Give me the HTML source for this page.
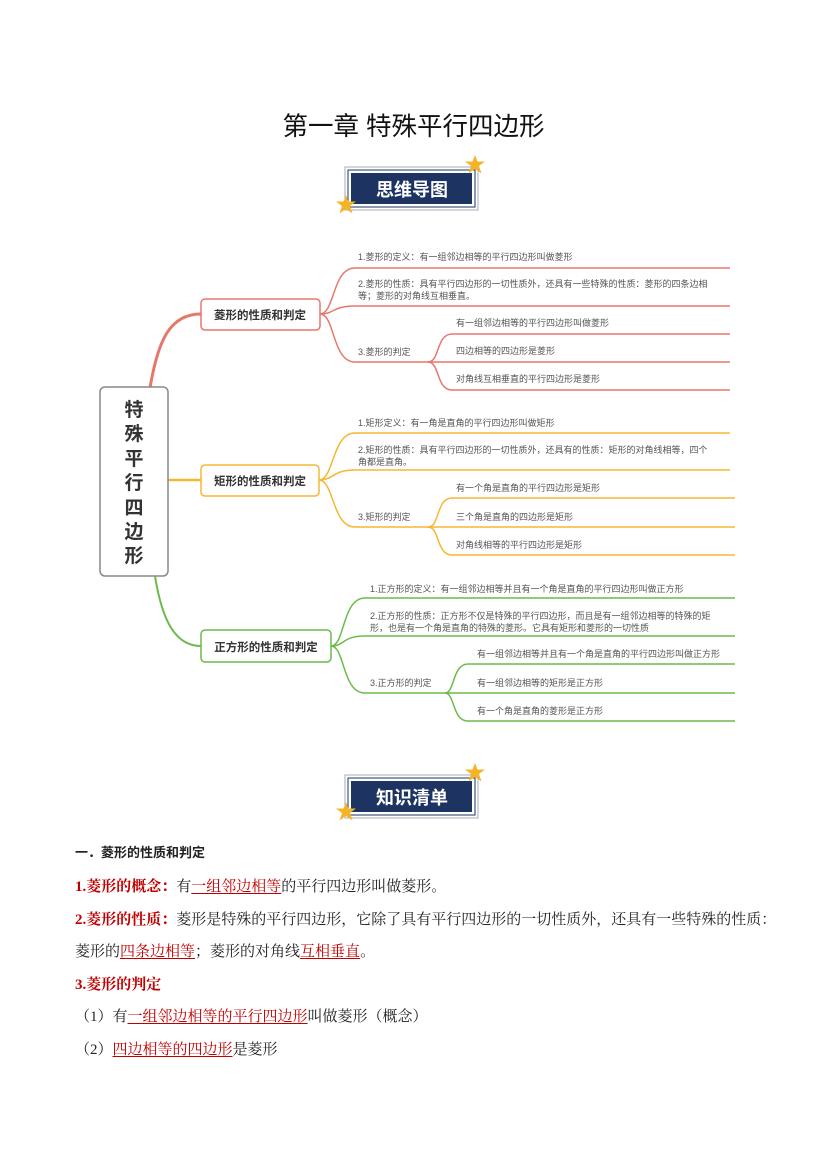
<!DOCTYPE html>
<html><head><meta charset="utf-8"><style>
body{margin:0;background:#fff;width:827px;height:1169px;position:relative;overflow:hidden;font-family:"Liberation Sans","Noto Sans CJK SC",sans-serif;}
.t{position:absolute;white-space:nowrap;}
.p{position:absolute;left:75px;font-size:15px;color:#222;white-space:nowrap;font-family:"Liberation Serif","Noto Serif CJK SC",serif;}
.r{color:#c00000;font-weight:bold;}
.u{color:#c00000;text-decoration:underline;text-underline-offset:2px;}
</style></head><body>
<div class="t" style="left:0;width:827px;text-align:center;top:106px;font-size:25.5px;color:#111;">第一章&nbsp;特殊平行四边形</div>

<svg width="827" height="1169" style="position:absolute;left:0;top:0" font-family="Liberation Sans, Noto Sans CJK SC, sans-serif">
<defs>
<g id="star"><polygon points="0,-10 2.5,-3.5 10,-3.5 4,1 6.5,8.5 0,4 -6.5,8.5 -4,1 -10,-3.5 -2.5,-3.5" fill="#f5b428"/></g>
</defs>
<rect x="345" y="167" width="133" height="43" fill="#fff" stroke="#aab" stroke-width="1"/>
<rect x="348" y="170" width="127" height="37" fill="#fff" stroke="#1d3462" stroke-width="1"/>
<rect x="351" y="173" width="121" height="31" fill="#1d3462"/>
<text x="412" y="196" font-size="18" font-weight="bold" fill="#fff" text-anchor="middle">思维导图</text>
<use href="#star" x="475" y="165"/><use href="#star" x="346" y="205"/>
<rect x="345" y="775" width="133" height="43" fill="#fff" stroke="#aab" stroke-width="1"/>
<rect x="348" y="778" width="127" height="37" fill="#fff" stroke="#1d3462" stroke-width="1"/>
<rect x="351" y="781" width="121" height="31" fill="#1d3462"/>
<text x="412" y="804" font-size="18" font-weight="bold" fill="#fff" text-anchor="middle">知识清单</text>
<use href="#star" x="475" y="773"/><use href="#star" x="346" y="812"/>

<path d="M150 388 C158 340,170 314,201 314" stroke="#e8776b" stroke-width="3" fill="none"/>
<path d="M168 480 L201 480" stroke="#f5b730" stroke-width="2.5" fill="none"/>
<path d="M155 576 C162 620,175 646,201 646" stroke="#6cbb4a" stroke-width="2" fill="none"/>
<rect x="100" y="387" width="68" height="189" rx="5" fill="#fff" stroke="#888" stroke-width="1.5"/>
<g font-size="19" font-weight="bold" fill="#333" text-anchor="middle">
<text x="134" y="416">特</text><text x="134" y="440">殊</text><text x="134" y="465">平</text><text x="134" y="489">行</text><text x="134" y="514">四</text><text x="134" y="538">边</text><text x="134" y="562">形</text>
</g>

<g stroke="#e8776b" stroke-width="1.5" fill="none">
<rect x="201" y="299" width="119" height="31" rx="4"/>
<path d="M320 314 C335 314,332 268,355 268 L730 268"/>
<path d="M320 314 C335 314,332 306,355 306 L730 306"/>
<path d="M320 314 C335 314,332 362,355 362 L428 362"/>
<path d="M428 362 C440 362,436 334,452 334 L730 334"/>
<path d="M428 362 L730 362"/>
<path d="M428 362 C440 362,436 390,452 390 L730 390"/>
</g>
<text x="260" y="319" font-size="11.5" font-weight="bold" fill="#333" text-anchor="middle">菱形的性质和判定</text>
<g font-size="9" fill="#555">
<text x="358" y="260">1.菱形的定义：有一组邻边相等的平行四边形叫做菱形</text>
<text x="358" y="287">2.菱形的性质：具有平行四边形的一切性质外，还具有一些特殊的性质：菱形的四条边相</text>
<text x="358" y="299">等；菱形的对角线互相垂直。</text>
<text x="358" y="355">3.菱形的判定</text>
<text x="456" y="326">有一组邻边相等的平行四边形叫做菱形</text>
<text x="456" y="354">四边相等的四边形是菱形</text>
<text x="456" y="382">对角线互相垂直的平行四边形是菱形</text>
</g>

<g stroke="#f5b730" stroke-width="1.5" fill="none">
<rect x="201" y="465" width="118" height="31" rx="4"/>
<path d="M319 480 C334 480,332 433,355 433 L730 433"/>
<path d="M319 480 C334 480,332 470,355 470 L730 470"/>
<path d="M319 480 C334 480,332 527,355 527 L428 527"/>
<path d="M428 527 C440 527,436 498,452 498 L735 498"/>
<path d="M428 527 L735 527"/>
<path d="M428 527 C440 527,436 555,452 555 L735 555"/>
</g>
<text x="260" y="485" font-size="11.5" font-weight="bold" fill="#333" text-anchor="middle">矩形的性质和判定</text>
<g font-size="9" fill="#555">
<text x="358" y="426">1.矩形定义：有一角是直角的平行四边形叫做矩形</text>
<text x="358" y="453">2.矩形的性质：具有平行四边形的一切性质外，还具有的性质：矩形的对角线相等，四个</text>
<text x="358" y="465">角都是直角。</text>
<text x="358" y="520">3.矩形的判定</text>
<text x="456" y="491">有一个角是直角的平行四边形是矩形</text>
<text x="456" y="520">三个角是直角的四边形是矩形</text>
<text x="456" y="548">对角线相等的平行四边形是矩形</text>
</g>

<g stroke="#6cbb4a" stroke-width="1.5" fill="none">
<rect x="201" y="630" width="130" height="32" rx="4"/>
<path d="M331 646 C345 646,342 598,365 598 L735 598"/>
<path d="M331 646 C345 646,342 636,365 636 L735 636"/>
<path d="M331 646 C345 646,342 693,365 693 L445 693"/>
<path d="M445 693 C455 693,452 664,468 664 L735 664"/>
<path d="M445 693 L735 693"/>
<path d="M445 693 C455 693,452 721,468 721 L735 721"/>
</g>
<text x="266" y="651" font-size="11.5" font-weight="bold" fill="#333" text-anchor="middle">正方形的性质和判定</text>
<g font-size="9" fill="#555">
<text x="370" y="592">1.正方形的定义：有一组邻边相等并且有一个角是直角的平行四边形叫做正方形</text>
<text x="370" y="619">2.正方形的性质：正方形不仅是特殊的平行四边形，而且是有一组邻边相等的特殊的矩</text>
<text x="370" y="631">形，也是有一个角是直角的特殊的菱形。它具有矩形和菱形的一切性质</text>
<text x="370" y="686">3.正方形的判定</text>
<text x="477" y="657">有一组邻边相等并且有一个角是直角的平行四边形叫做正方形</text>
<text x="477" y="686">有一组邻边相等的矩形是正方形</text>
<text x="477" y="714">有一个角是直角的菱形是正方形</text>
</g>
</svg>

<div class="p" style="top:842px;font-size:13px;font-weight:bold;font-family:'Liberation Sans','Noto Sans CJK SC',sans-serif;">一．菱形的性质和判定</div>
<div class="p" style="top:875px;"><span class="r">1.菱形的概念：</span>有<span class="u">一组邻边相等</span>的平行四边形叫做菱形。</div>
<div class="p" style="top:908px;"><span class="r">2.菱形的性质：</span>菱形是特殊的平行四边形，它除了具有平行四边形的一切性质外，还具有一些特殊的性质：</div>
<div class="p" style="top:940px;">菱形的<span class="u">四条边相等</span>；菱形的对角线<span class="u">互相垂直</span>。</div>
<div class="p" style="top:973px;"><span class="r">3.菱形的判定</span></div>
<div class="p" style="top:1005px;">（1）有<span class="u">一组邻边相等的平行四边形</span>叫做菱形（概念）</div>
<div class="p" style="top:1038px;">（2）<span class="u">四边相等的四边形</span>是菱形</div>
</body></html>
